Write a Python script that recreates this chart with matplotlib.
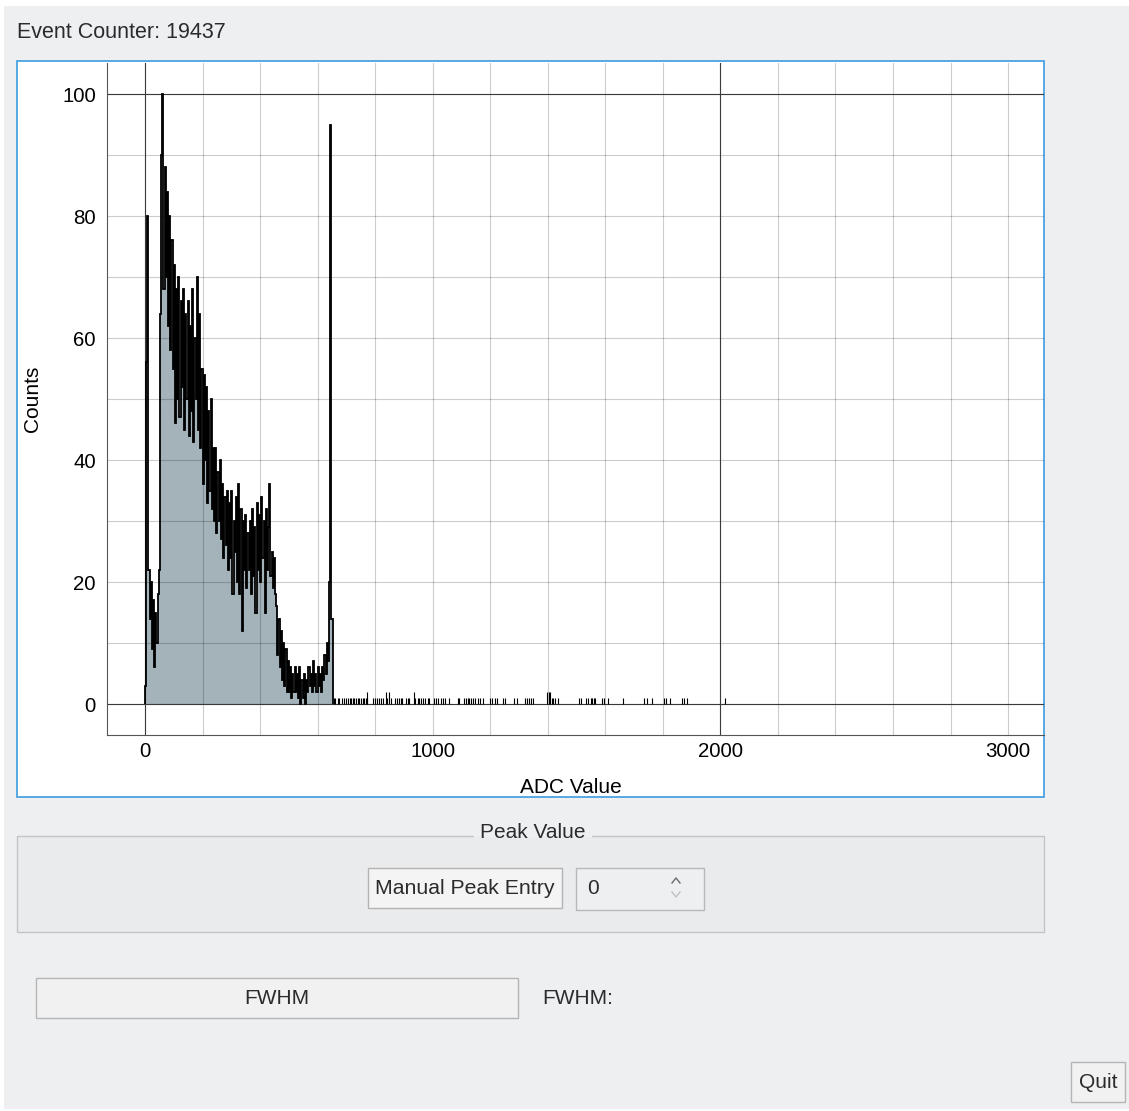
import numpy as np
import matplotlib.pyplot as plt
from matplotlib.patches import Rectangle

plt.rcParams['font.family'] = ['Liberation Sans', 'DejaVu Sans']

# histogram of ADC values, 4-count bins from 0 to 652
bin_width = 4
counts = [3, 56, 80, 22, 14, 20, 9, 17, 6, 15,
          10, 18, 22, 64, 90, 100, 68, 88, 70, 84,
          62, 80, 58, 76, 55, 72, 46, 68, 50, 70,
          47, 66, 52, 68, 45, 64, 50, 66, 44, 62,
          48, 68, 43, 60, 50, 70, 45, 64, 42, 55,
          36, 54, 40, 52, 33, 48, 35, 50, 32, 42,
          30, 42, 28, 38, 30, 40, 27, 36, 24, 34,
          26, 35, 22, 33, 24, 35, 18, 30, 25, 34,
          20, 36, 18, 32, 12, 30, 22, 31, 19, 28,
          22, 30, 18, 32, 21, 29, 15, 33, 22, 31,
          20, 34, 24, 30, 15, 32, 22, 29, 36, 21,
          25, 19, 24, 18, 16, 8, 14, 6, 12, 4,
          10, 3, 9, 2, 7, 2, 6, 1, 5, 2,
          6, 2, 5, 1, 6, 0, 4, 1, 5, 0,
          4, 2, 6, 3, 5, 2, 7, 3, 5, 2,
          6, 3, 5, 2, 6, 4, 8, 5, 10, 7,
          20, 95, 14]

# sparse single events above the peak
tail_adc = [656, 661, 670, 676, 684, 693, 699, 705, 711, 716, 722, 728, 734, 739,
            745, 751, 757, 762, 768, 771, 773, 793, 799, 806, 814, 820, 826, 837,
            843, 849, 855, 869, 876, 884, 890, 895, 907, 913, 919, 934, 940, 948,
            954, 960, 966, 974, 983, 989, 1006, 1012, 1020, 1029, 1035, 1043, 1058,
            1087, 1093, 1110, 1116, 1122, 1128, 1133, 1139, 1147, 1156, 1165, 1174,
            1200, 1206, 1217, 1223, 1246, 1252, 1283, 1292, 1321, 1327, 1336, 1341,
            1350, 1397, 1403, 1409, 1415, 1420, 1426, 1437, 1509, 1514, 1532, 1541,
            1549, 1555, 1560, 1566, 1589, 1597, 1608, 1660, 1735, 1744, 1764, 1804,
            1812, 1824, 1867, 1873, 1884, 2017]
tail_counts = [1] * len(tail_adc)
for i, a in enumerate(tail_adc):
    if a in (771, 837, 849, 934, 1397, 1403, 1409):
        tail_counts[i] = 2

event_count = 19437
x_ticks = [0, 1000, 2000, 3000]
y_ticks = [0, 20, 40, 60, 80, 100]

W, H = 1129, 1111
bg_col = '#eeeff1'
txt_col = '#2b2b2b'
fs = 15

fig = plt.figure(figsize=(W / 100, H / 100), dpi=100)
fig.patch.set_facecolor('white')

# pixel-space canvas for the window widgets
bg = fig.add_axes([0, 0, 1, 1])
bg.set_xlim(0, W)
bg.set_ylim(H, 0)
bg.axis('off')

bg.add_patch(Rectangle((4, 6), W - 4, H - 8, facecolor=bg_col, edgecolor='none'))
bg.text(17, 32, f'Event Counter: {event_count}', fontsize=15.5, color=txt_col,
        ha='left', va='center')

# plot widget frame
bg.add_patch(Rectangle((17, 61), 1027, 736, facecolor='white', edgecolor='#3d9be0', lw=1.2))

# Peak Value group box
bg.add_patch(Rectangle((17, 836), 1027, 96, facecolor='#eaebed', edgecolor='#c4c4c4', lw=1))
bg.add_patch(Rectangle((474, 826), 118, 18, facecolor=bg_col, edgecolor='none'))
bg.add_patch(Rectangle((474, 837), 118, 8, facecolor='#eaebed', edgecolor='none'))
bg.text(533, 833, 'Peak Value', fontsize=fs, color=txt_col, ha='center', va='center')

bg.add_patch(Rectangle((368, 868), 194, 40, facecolor='#f4f4f5', edgecolor='#b3b3b3', lw=1))
bg.text(465, 888, 'Manual Peak Entry', fontsize=15.3, color=txt_col, ha='center', va='center')

bg.add_patch(Rectangle((576, 868), 128, 42, facecolor='#eeeff1', edgecolor='#b8b8b8', lw=1))
bg.text(587, 889, '0', fontsize=fs, color=txt_col, ha='left', va='center')
bg.plot([672, 676, 680], [883, 878, 883], color='#6a6a6a', lw=1)
bg.plot([672, 676, 680], [892, 897, 892], color='#c0c0c0', lw=1)

# FWHM row
bg.add_patch(Rectangle((36, 978), 482, 40, facecolor='#f1f1f2', edgecolor='#b5b5b5', lw=1))
bg.text(277, 998, 'FWHM', fontsize=fs, color=txt_col, ha='center', va='center')
bg.text(542, 998, 'FWHM:', fontsize=fs, color=txt_col, ha='left', va='center')

bg.add_patch(Rectangle((1071, 1062), 54, 40, facecolor='#f1f1f2', edgecolor='#b5b5b5', lw=1))
bg.text(1098, 1082, 'Quit', fontsize=fs, color=txt_col, ha='center', va='center')

# histogram axes
ax = fig.add_axes([107 / W, (H - 735) / H, 937 / W, 672 / H])
ax.patch.set_alpha(0)
edges = np.arange(len(counts) + 1) * bin_width
ax.stairs(counts, edges, fill=True, color='#a3b3b9', zorder=1)
ax.stairs(counts, edges, color='black', lw=1.3, zorder=3)
ax.vlines(tail_adc, 0, tail_counts, color='black', lw=0.8, zorder=3)

ax.set_xlim(-132, 3125)
ax.set_ylim(-5.08, 105.1)
ax.set_xticks(x_ticks)
ax.set_xticks(np.arange(0, 3001, 200), minor=True)
ax.set_yticks(y_ticks)
ax.set_yticks(np.arange(0, 101, 10), minor=True)
ax.grid(True, which='both', color='black', alpha=0.2, lw=0.8)
for v in (0, 100):
    ax.axhline(v, color='#3a3a3a', lw=0.8, zorder=2)
for v in (0, 2000):
    ax.axvline(v, color='#3a3a3a', lw=0.8, zorder=2)

ax.tick_params(which='both', length=0, labelsize=14.7, labelcolor='black')
ax.tick_params(axis='y', pad=8)
ax.tick_params(axis='x', pad=5)
for s in ('top', 'right'):
    ax.spines[s].set_visible(False)
for s in ('left', 'bottom'):
    ax.spines[s].set_color('#555555')
    ax.spines[s].set_linewidth(0.8)

ax.set_xlabel('ADC Value', fontsize=fs, color='black')
ax.xaxis.set_label_coords((571 - 107) / 937, (735 - 778) / 672)
ax.set_ylabel('Counts', fontsize=fs, color='black')
ax.yaxis.set_label_coords((42 - 107) / 937, 0.5)

fig.savefig('out.png', dpi=100)
